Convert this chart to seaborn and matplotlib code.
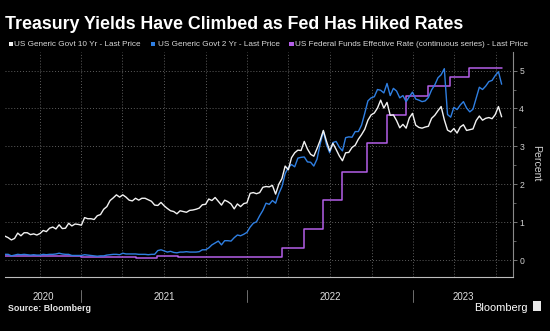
import numpy as np
import pandas as pd
import matplotlib
matplotlib.use("Agg")
import matplotlib.pyplot as plt
import matplotlib.dates as mdates
from matplotlib.patches import Rectangle
from matplotlib.transforms import blended_transform_factory
import seaborn as sns

# ---------------- data (weekly, Fridays) ----------------
week_start = "2020-07-17"
week_end = "2023-07-14"

y10_2020 = [0.63, 0.59, 0.53, 0.57, 0.71, 0.64, 0.72, 0.72, 0.67, 0.69, 0.66, 0.70,
            0.78, 0.75, 0.84, 0.87, 0.82, 0.93, 0.83, 0.84, 0.97, 0.90, 0.95, 0.94]
y10_2021 = [0.92, 1.12, 1.09, 1.09, 1.07, 1.17, 1.20, 1.34, 1.41, 1.57, 1.64, 1.72,
            1.66, 1.72, 1.66, 1.58, 1.56, 1.63, 1.58, 1.63, 1.63, 1.59, 1.55, 1.45,
            1.44, 1.52, 1.43, 1.36, 1.30, 1.28, 1.22, 1.30, 1.28, 1.26, 1.31, 1.32,
            1.34, 1.37, 1.46, 1.47, 1.61, 1.57, 1.65, 1.55, 1.45, 1.58, 1.54, 1.48,
            1.35, 1.48, 1.41, 1.49, 1.51]
y10_2022 = [1.76, 1.78, 1.75, 1.78, 1.92, 1.94, 1.93, 1.97, 1.74, 2.00, 2.15, 2.48,
            2.38, 2.70, 2.83, 2.90, 2.89, 3.13, 2.93, 2.79, 2.74, 2.94, 3.16, 3.42,
            3.13, 2.88, 3.08, 2.92, 2.75, 2.62, 2.83, 2.84, 2.97, 3.03, 3.19, 3.31,
            3.45, 3.69, 3.83, 3.88, 4.01, 4.22, 4.01, 4.16, 3.82, 3.83, 3.68, 3.49,
            3.58, 3.48, 3.75, 3.87]
y10_2023 = [3.56, 3.50, 3.48, 3.51, 3.53, 3.74, 3.82, 3.94, 4.05, 3.70, 3.43, 3.38,
            3.47, 3.35, 3.51, 3.57, 3.42, 3.44, 3.46, 3.68, 3.80, 3.69, 3.74, 3.76,
            3.73, 3.84, 4.05, 3.78]

y2_2020 = [0.15, 0.15, 0.11, 0.13, 0.15, 0.14, 0.15, 0.14, 0.13, 0.14, 0.13, 0.13,
           0.15, 0.14, 0.15, 0.15, 0.16, 0.18, 0.16, 0.15, 0.15, 0.12, 0.12, 0.12]
y2_2021 = [0.12, 0.14, 0.13, 0.12, 0.11, 0.10, 0.11, 0.11, 0.13, 0.14, 0.15, 0.15,
           0.14, 0.18, 0.16, 0.16, 0.16, 0.16, 0.15, 0.15, 0.15, 0.14, 0.15, 0.15,
           0.25, 0.27, 0.24, 0.21, 0.23, 0.20, 0.19, 0.21, 0.21, 0.22, 0.21, 0.21,
           0.21, 0.22, 0.27, 0.27, 0.32, 0.40, 0.45, 0.50, 0.40, 0.51, 0.51, 0.50,
           0.59, 0.66, 0.64, 0.68, 0.73]
y2_2022 = [0.87, 0.97, 1.01, 1.17, 1.31, 1.50, 1.47, 1.57, 1.50, 1.75, 1.94, 2.28,
           2.44, 2.52, 2.46, 2.69, 2.71, 2.72, 2.59, 2.58, 2.48, 2.66, 3.06, 3.40,
           3.04, 2.83, 3.10, 3.13, 2.98, 2.88, 3.23, 3.25, 3.24, 3.39, 3.39, 3.56,
           3.87, 4.20, 4.28, 4.31, 4.50, 4.48, 4.41, 4.66, 4.34, 4.53, 4.46, 4.28,
           4.34, 4.18, 4.31, 4.43]
y2_2023 = [4.25, 4.22, 4.18, 4.20, 4.29, 4.49, 4.62, 4.81, 4.89, 5.05, 3.84, 3.77,
           4.03, 3.97, 4.09, 4.18, 4.01, 3.91, 3.98, 4.27, 4.56, 4.50, 4.59, 4.71,
           4.74, 4.87, 4.97, 4.64]

ff_dates = ["2020-07-17", "2021-01-01", "2021-02-01", "2021-03-01", "2021-05-01",
            "2021-06-17", "2021-08-01", "2021-10-01", "2022-03-17", "2022-05-05",
            "2022-06-16", "2022-07-28", "2022-09-22", "2022-11-03", "2022-12-15",
            "2023-02-02", "2023-03-23", "2023-05-04", "2023-07-14"]
ff_values = [0.10, 0.09, 0.08, 0.07, 0.06, 0.10, 0.09, 0.08, 0.33, 0.83,
             1.58, 2.33, 3.08, 3.83, 4.33, 4.58, 4.83, 5.08, 5.08]

labels = ["US Generic Govt 10 Yr - Last Price",
          "US Generic Govt 2 Yr - Last Price",
          "US Federal Funds Effective Rate (continuous series) - Last Price"]
year_labels = ["2020", "2021", "2022", "2023"]
title = "Treasury Yields Have Climbed as Fed Has Hiked Rates"

C_WHITE = "#f2f2f2"
C_BLUE = "#2f7fe2"
C_PURPLE = "#b45fe8"

# ---------------- frames ----------------
dates = pd.date_range(week_start, week_end, freq="W-FRI")
df = pd.DataFrame({
    "date": dates,
    "y10": y10_2020 + y10_2021 + y10_2022 + y10_2023,
    "y2": y2_2020 + y2_2021 + y2_2022 + y2_2023,
})
ff = pd.DataFrame({"date": pd.to_datetime(ff_dates), "ff": ff_values})

# ---------------- figure ----------------
sns.set_style("dark")
plt.rcParams["font.family"] = ["Liberation Sans", "DejaVu Sans"]

W, H = 550, 331
fig = plt.figure(figsize=(W / 100, H / 100), dpi=100, facecolor="black")
L, R, T, B = 5, 513, 52, 276.7
ax = fig.add_axes([L / W, 1 - B / H, (R - L) / W, (B - T) / H])
ax.set_facecolor("black")

sns.lineplot(data=ff, x="date", y="ff", ax=ax, color=C_PURPLE, lw=1.1,
             drawstyle="steps-post", zorder=3)
sns.lineplot(data=df, x="date", y="y2", ax=ax, color=C_BLUE, lw=1.0, zorder=4)
sns.lineplot(data=df, x="date", y="y10", ax=ax, color=C_WHITE, lw=1.0, zorder=5)

x0 = pd.Timestamp("2020-07-17")
x1 = pd.Timestamp("2023-08-08")
ax.set_xlim(x0, x1)
ax.set_ylim(-0.44, 5.49)
ax.set_xlabel("")
ax.set_ylabel("")

# spines
for s in ["left", "top"]:
    ax.spines[s].set_visible(False)
ax.spines["bottom"].set_color("#bdbdbd")
ax.spines["bottom"].set_linewidth(0.8)
ax.spines["right"].set_color("#8a8a8a")
ax.spines["right"].set_linewidth(0.8)

# y axis on the right
ax.yaxis.tick_right()
ax.set_yticks([0, 1, 2, 3, 4, 5])
ax.set_yticks(np.arange(-0.0, 5.5, 0.5), minor=True)
ax.tick_params(axis="y", which="major", colors="#8a8a8a", labelcolor="#d0d0d0",
               length=3, width=0.6, labelsize=6.2, pad=1.5, left=False, right=True)
ax.tick_params(axis="y", which="minor", colors="#8a8a8a", length=1.8, width=0.5,
               left=False, right=True)

# x axis: quarter grid, monthly ticks
ax.xaxis.set_major_locator(mdates.MonthLocator(bymonth=[1, 4, 7, 10]))
ax.xaxis.set_minor_locator(mdates.MonthLocator())
ax.xaxis.set_major_formatter(plt.NullFormatter())
ax.tick_params(axis="x", which="both", colors="#bdbdbd", length=2.2, width=0.6,
               direction="out")

ax.grid(True, which="major", axis="both", color="#5e5e5e", lw=0.7,
        linestyle=(0, (1, 2)))
ax.grid(False, which="minor")
ax.set_axisbelow(True)

# year labels and separators
trans = blended_transform_factory(ax.transData, ax.transAxes)
ah = B - T
sep_top = -(290 - B) / ah
sep_bot = -(301.5 - B) / ah
lab_y = -(299.8 - B) / ah
bounds = [x0] + [pd.Timestamp(f"{y}-01-01") for y in (2021, 2022, 2023)] + [x1]
for i, yl in enumerate(year_labels):
    a, b = bounds[i], bounds[i + 1]
    mid = a + (b - a) / 2
    ax.text(mdates.date2num(mid), lab_y, yl, transform=trans, ha="center",
            va="baseline", color="#e0e0e0", fontsize=7.0)
for d in bounds[1:-1]:
    ax.plot([mdates.date2num(d)] * 2, [sep_top, sep_bot], transform=trans,
            color="#6e6e6e", lw=0.7, clip_on=False)

# Percent label
fig.text(536.5 / W, 1 - 163 / H, "Percent", rotation=270, ha="center", va="center",
         color="#d0d0d0", fontsize=7.6)

# title
fig.text(5 / W, 1 - 28.8 / H, title, ha="left", va="baseline", color="white",
         fontsize=12.8, fontweight="bold")

# legend
leg_items = [(8.8, 14.4, C_WHITE), (150.8, 157.5, C_BLUE), (289.4, 295.3, C_PURPLE)]
for (sx, tx, c), lab in zip(leg_items, labels):
    fig.add_artist(Rectangle((sx / W, 1 - 45.8 / H), 4.3 / W, 4.3 / H,
                             transform=fig.transFigure, color=c, lw=0))
    fig.text(tx / W, 1 - 46.3 / H, lab, ha="left", va="baseline",
             color="#d8d8d8", fontsize=5.9)

# footer
fig.text(7.7 / W, 1 - 311 / H, "Source: Bloomberg", ha="left", va="baseline",
         color="#e8e8e8", fontsize=6.4, fontweight="bold")
fig.text(528 / W, 1 - 311 / H, "Bloomberg", ha="right", va="baseline",
         color="white", fontsize=7.9)
fig.add_artist(Rectangle((533 / W, 1 - 311 / H), 8 / W, 10 / H,
                         transform=fig.transFigure, color="#e8e8e8", lw=0))

fig.savefig("out.png", dpi=100, facecolor="black")
